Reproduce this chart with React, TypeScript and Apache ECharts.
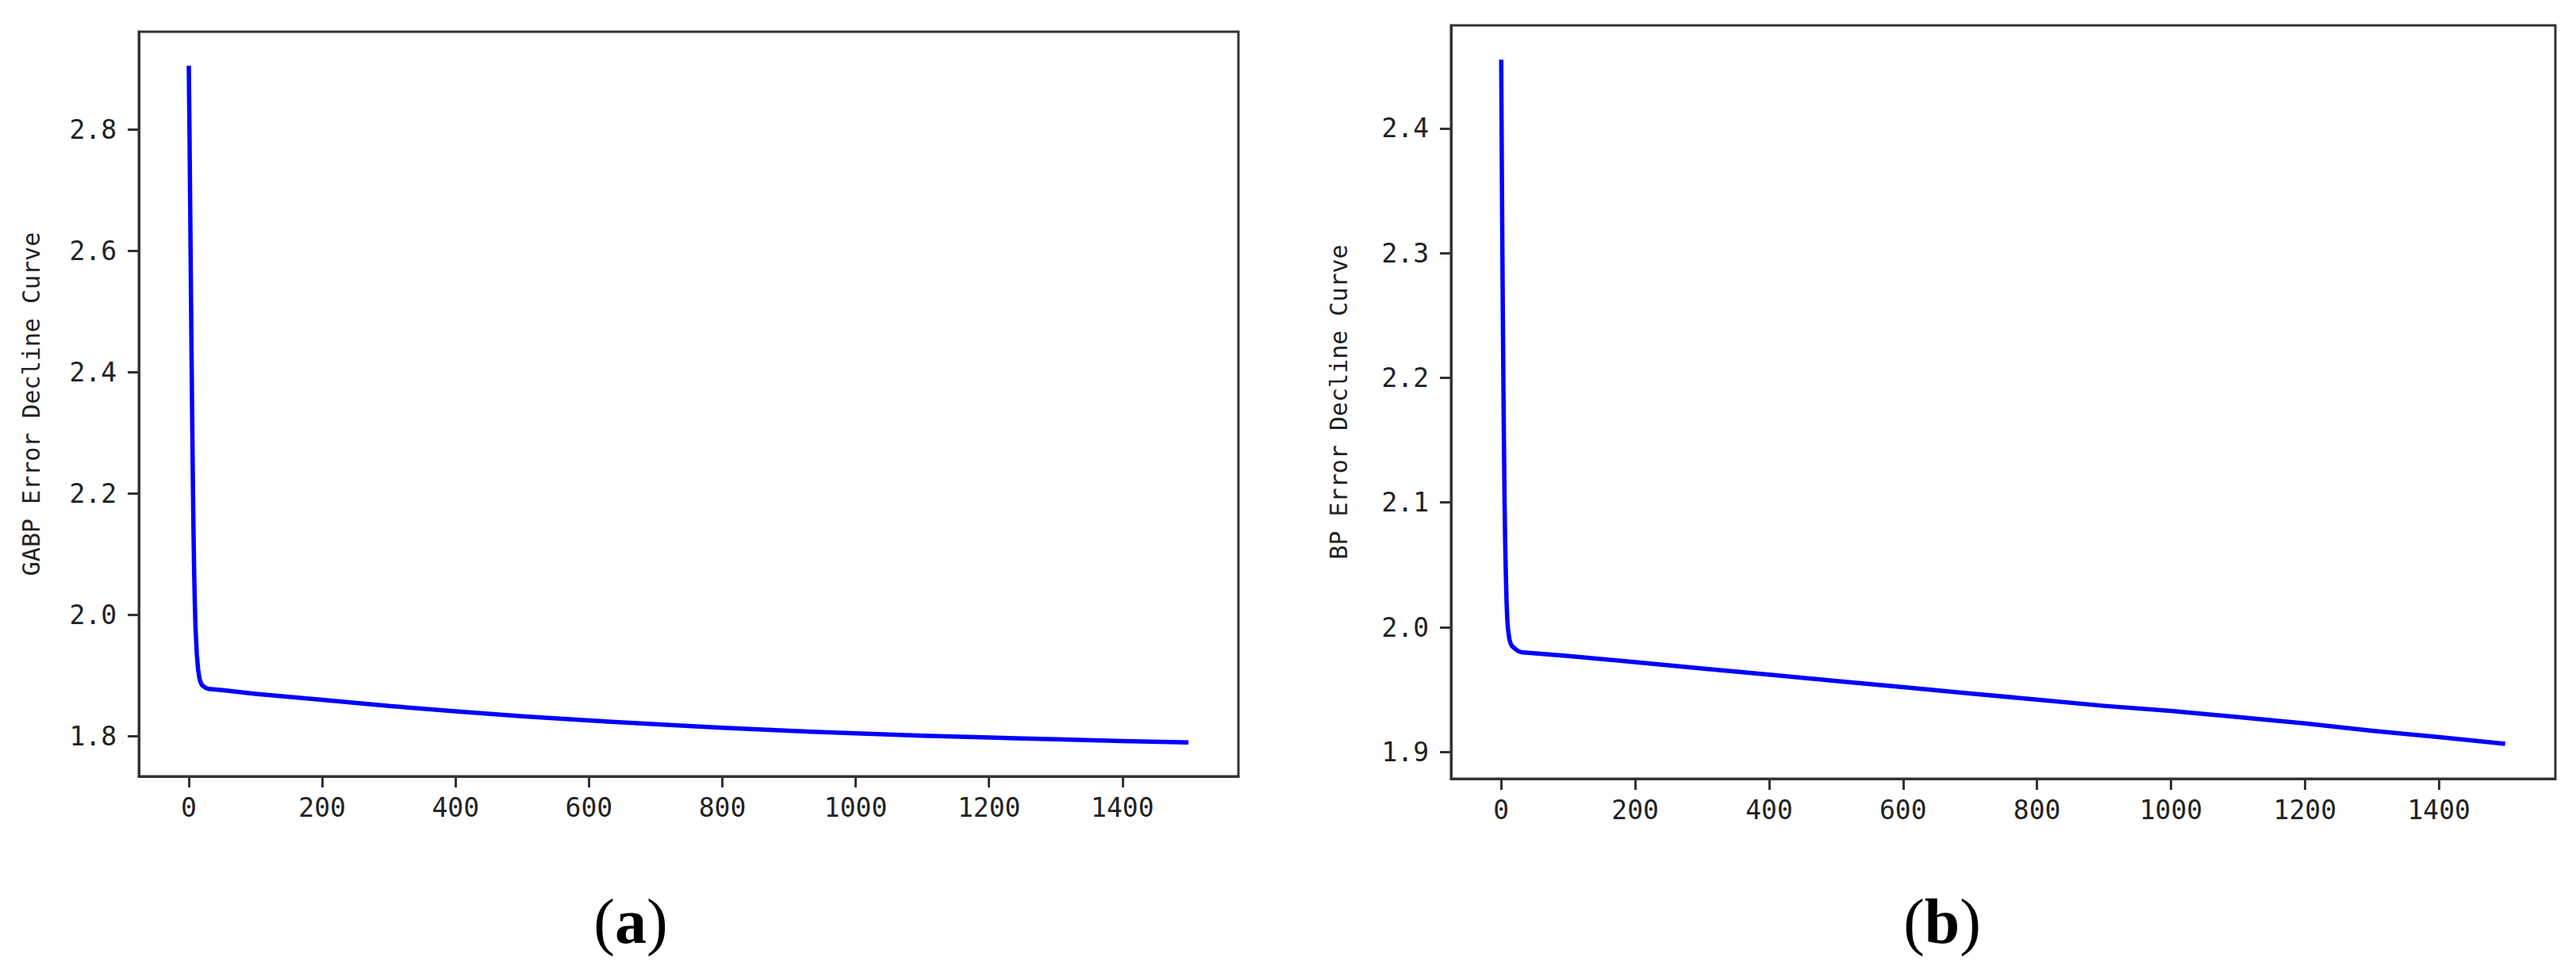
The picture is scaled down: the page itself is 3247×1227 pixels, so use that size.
import React, { useEffect, useRef } from "react";
import * as echarts from "echarts";

// ---- data ----
const iterTicks = [0, 200, 400, 600, 800, 1000, 1200, 1400];
const gabpTicks = [1.8, 2.0, 2.2, 2.4, 2.6, 2.8];
const bpTicks = [1.9, 2.0, 2.1, 2.2, 2.3, 2.4];

const gabpIter = [0, 1, 2, 3, 4, 5, 6, 7, 8, 9, 10, 12, 14, 16, 18, 20, 25, 30, 50, 100, 200, 300, 400, 500, 600, 700, 800, 900, 1000, 1100, 1200, 1300, 1400, 1499];
const gabpErr = [2.905, 2.8, 2.68, 2.56, 2.44, 2.33, 2.23, 2.14, 2.07, 2.02, 1.98, 1.935, 1.91, 1.895, 1.888, 1.884, 1.88, 1.878, 1.876, 1.87, 1.86, 1.85, 1.841, 1.833, 1.826, 1.82, 1.814, 1.809, 1.805, 1.801, 1.798, 1.795, 1.792, 1.79];

const bpIter = [0, 1, 2, 3, 4, 5, 6, 7, 8, 9, 10, 12, 14, 16, 20, 25, 30, 100, 200, 300, 400, 500, 600, 700, 800, 900, 1000, 1100, 1200, 1300, 1400, 1499];
const bpErr = [2.455, 2.36, 2.28, 2.21, 2.15, 2.1, 2.065, 2.04, 2.02, 2.007, 1.999, 1.991, 1.987, 1.985, 1.983, 1.981, 1.98, 1.977, 1.972, 1.967, 1.962, 1.957, 1.952, 1.947, 1.942, 1.937, 1.933, 1.928, 1.923, 1.917, 1.912, 1.9065];

const gabpTitle = "GABP Error Decline Curve";
const bpTitle = "BP Error Decline Curve";
const panelLabels = ["a", "b"];

const FRAME = "#333333";
const MONO = "'DejaVu Sans Mono', 'Liberation Mono', monospace";

function xAxisCfg(gridIndex: number) {
  return {
    type: "value",
    gridIndex,
    min: -74.95,
    max: 1573.95,
    axisLine: { show: true, onZero: false, lineStyle: { color: FRAME, width: 3 } },
    axisTick: { show: true, inside: false, length: 14, lineStyle: { color: FRAME, width: 3 }, customValues: iterTicks },
    axisLabel: {
      show: true,
      margin: 23,
      fontFamily: MONO,
      fontSize: 33,
      color: "#222",
      customValues: iterTicks,
      formatter: (v: number) => String(Math.round(v)),
    },
    splitLine: { show: false },
  };
}

function yAxisCfg(gridIndex: number, min: number, max: number, ticks: number[], name: string, gap: number) {
  return {
    type: "value",
    gridIndex,
    min,
    max,
    name,
    nameLocation: "middle",
    nameGap: gap,
    nameRotate: 90,
    nameTextStyle: { fontFamily: MONO, fontSize: 30, color: "#222" },
    axisLine: { show: true, onZero: false, lineStyle: { color: FRAME, width: 3 } },
    axisTick: { show: true, inside: false, length: 14, lineStyle: { color: FRAME, width: 3 }, customValues: ticks },
    axisLabel: {
      show: true,
      margin: 28,
      fontFamily: MONO,
      fontSize: 33,
      color: "#222",
      customValues: ticks,
      formatter: (v: number) => v.toFixed(1),
    },
    splitLine: { show: false },
  };
}

export default function App() {
  const ref = useRef<HTMLDivElement>(null);
  useEffect(() => {
    document.body.style.margin = "0";
    const chart = echarts.init(ref.current!, null, { renderer: "svg" });
    const serif = "'Liberation Serif', 'Times New Roman', serif";
    const label = (x: number, t: string) => ({
      type: "text",
      x,
      y: 1162,
      style: {
        rich: {
          p: { fontFamily: serif, fontSize: 80, fill: "#000" },
          b: { fontFamily: serif, fontSize: 80, fontWeight: "bold", fill: "#000" },
        },
        text: "{p|(}{b|" + t + "}{p|)}",
        align: "center",
        verticalAlign: "middle",
      },
    });
    chart.setOption({
      animation: false,
      backgroundColor: "#ffffff",
      grid: [
        { left: 175, top: 40, width: 1386, height: 939, show: true, borderColor: FRAME, borderWidth: 3, backgroundColor: "transparent" },
        { left: 1829, top: 32, width: 1392, height: 950, show: true, borderColor: FRAME, borderWidth: 3, backgroundColor: "transparent" },
      ],
      xAxis: [xAxisCfg(0), xAxisCfg(1)],
      yAxis: [
        yAxisCfg(0, 1.734, 2.961, gabpTicks, gabpTitle, 121),
        yAxisCfg(1, 1.8786, 2.4825, bpTicks, bpTitle, 127),
      ],
      series: [
        {
          type: "line",
          xAxisIndex: 0,
          yAxisIndex: 0,
          data: gabpIter.map((x, i) => [x, gabpErr[i]]),
          showSymbol: false,
          smooth: false,
          lineStyle: { color: "#0000ff", width: 5.5, join: "round" },
        },
        {
          type: "line",
          xAxisIndex: 1,
          yAxisIndex: 1,
          data: bpIter.map((x, i) => [x, bpErr[i]]),
          showSymbol: false,
          smooth: false,
          lineStyle: { color: "#0000ff", width: 5.5, join: "round" },
        },
      ],
      graphic: [label(795, panelLabels[0]), label(2448, panelLabels[1])],
    });
    return () => chart.dispose();
  }, []);
  return <div ref={ref} style={{ width: 3247, height: 1227 }} />;
}
